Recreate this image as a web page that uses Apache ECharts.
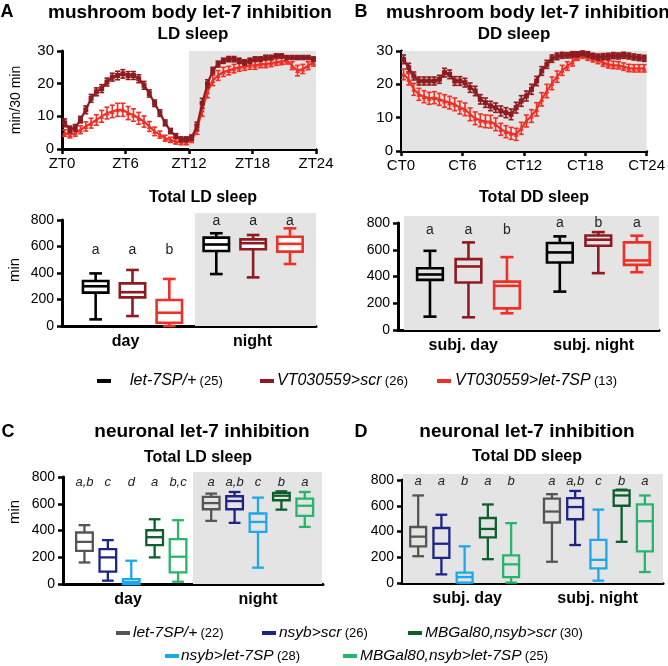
<!DOCTYPE html>
<html><head><meta charset="utf-8">
<script src="https://cdn.jsdelivr.net/npm/echarts@6/dist/echarts.min.js"></script>
<style>html,body{margin:0;padding:0;background:#fff}#c{width:668px;height:666px}</style>
</head><body><div id="c"></div>
<script>
// ---------- DATA ----------
const hours = [0.25,0.75,1.25,1.75,2.25,2.75,3.25,3.75,4.25,4.75,5.25,5.75,6.25,6.75,7.25,7.75,8.25,8.75,9.25,9.75,10.25,10.75,11.25,11.75,
  12.25,12.75,13.25,13.75,14.25,14.75,15.25,15.75,16.25,16.75,17.25,17.75,18.25,18.75,19.25,19.75,20.25,20.75,21.25,21.75,22.25,22.75,23.25,23.75];
const ldTicks = ['ZT0','ZT6','ZT12','ZT18','ZT24'];
const ddTicks = ['CT0','CT6','CT12','CT18','CT24'];

// LD sleep (min/30 min) and SEM
const ldScr = [8,6,6.5,9,12,15.5,17.5,18.5,20.5,22,22.5,23,22.5,22.5,21.5,19.5,17,14,11,8,5.5,4,3,3,
  3.5,7,14,20,24,26,27,27.5,27.5,27,26.5,27,27.5,27.5,28,28,28.5,28.5,28,28,28,28,28,27.5];
const ldScrSem = [1.2,1,1,1,1.2,1.2,1.2,1.2,1.2,1.2,1.3,1.3,1.2,1.2,1.2,1.2,1.1,1,1,0.9,0.8,0.7,0.7,0.7,
  0.8,1.2,1.5,1.2,1,0.9,0.8,0.8,0.8,0.8,0.8,0.8,0.7,0.7,0.7,0.7,0.6,0.6,0.6,0.6,0.6,0.6,0.6,0.7];
const ldLet7 = [4.9,4.4,4.9,5.9,6.9,7.9,8.9,10,11,11.5,12,12,11,10.4,9.4,8.4,6.9,5.4,4.4,3.3,2.8,2.3,2,2,
  2.8,6,12,17.5,21,22.5,23.6,24,24.6,25,25.3,25.6,25.6,26,26,26.3,26.6,26.8,27,25.5,24,24.5,25.5,26.5];
const ldLet7Sem = [1,1,1,1.2,1.4,1.5,1.6,1.8,1.8,1.9,2,2,2,1.9,1.8,1.7,1.5,1.3,1.1,0.9,0.8,0.8,0.7,0.7,
  0.8,1.5,2,1.8,1.6,1.5,1.4,1.3,1.3,1.2,1.2,1.2,1.2,1.1,1.1,1.1,1,1,1,1.2,1.6,1.4,1.2,1.1];
// DD sleep
const ddScr = [27.5,25,22.5,21,21,21,21,21.5,23.5,23,21,21,20.5,19,18,15.5,14.5,13.5,13,12,11.5,11,13,15,
  16.5,18.5,21,24,26,27.7,28.4,28.7,28.7,29,29,29.3,29,28.5,28.2,28.3,28.4,28.6,28.5,28.7,28.5,28.2,28,27.8];
const ddScrSem = [1.3,1.3,1.2,1.2,1.2,1.2,1.2,1.2,1.3,1.3,1.3,1.3,1.3,1.4,1.4,1.4,1.4,1.4,1.4,1.5,1.5,1.6,1.6,1.6,
  1.5,1.5,1.4,1.3,1.2,1.1,1,0.9,0.8,0.8,0.8,0.7,0.8,0.8,0.9,0.9,0.9,0.9,0.9,0.9,0.9,0.9,0.9,0.9];
const ddLet7 = [23,21.5,18.5,17,16.3,15.8,16,15.5,15,14.5,14,13,12.5,11,9.8,9.2,8.9,8.8,8,6.5,5.8,5.3,5,6.8,
  9,10.5,12.5,15.5,18,20.3,22.3,24.2,25.5,26.7,28.2,28.7,28.2,27.7,27.3,26.5,26,25.8,25.7,25.3,24.9,24.8,24.8,24.8];
const ddLet7Sem = [1.6,1.7,1.8,1.8,1.8,1.8,1.8,1.8,1.9,1.9,1.9,1.9,1.9,1.9,1.9,1.9,1.9,1.9,1.9,1.8,1.8,1.8,1.8,1.8,
  1.8,1.9,2,2,2,1.9,1.7,1.5,1.3,1.2,1,0.9,1,1,1.1,1.1,1.1,1.1,1.1,1.1,1.1,1.1,1.1,1.1];

// Box plot categories
const catsLD = ['day','night'];
const catsDD = ['subj. day','subj. night'];

// Mushroom body genotypes
const mbGenotypes = ['let-7SP/+','VT030559>scr','VT030559>let-7SP'];
const mbCounts = ['(25)','(26)','(13)'];
// [min, q1, median, q3, max] for [day, night]
const ldBox_let7SP = [[50,252,300,340,397],[392,566,615,667,700]];
const ldBox_VTscr  = [[75,216,255,322,423],[367,579,625,654,687]];
const ldBox_VTlet7 = [[0,25,100,196,355],[468,561,620,674,737]];
const ddBox_let7SP = [[100,375,415,462,592],[287,505,580,650,700]];
const ddBox_VTscr  = [[95,355,475,530,655],[425,630,675,707,732]];
const ddBox_VTlet7 = [[125,162,330,362,545],[432,487,520,655,705]];
const lettersA = [['a','a','b'],['a','a','a']];
const lettersB = [['a','a','b'],['a','b','a']];

// Neuronal genotypes (plot order)
const nGenotypes = ['let-7SP/+','nsyb>scr','nsyb>let-7SP','MBGal80,nsyb>scr','MBGal80,nsyb>let-7SP'];
const nCounts = ['(22)','(26)','(28)','(30)','(25)'];
const nLD_let7SP   = [[161,248,315,385,440],[472,559,605,651,676]];
const nLD_nsybScr  = [[25,92,199,261,328],[457,559,620,656,688]];
const nLD_nsybLet7 = [[0,0,15,37,174],[122,390,464,527,646]];
const nLD_mbScr    = [[199,291,350,402,484],[556,626,660,681,693]];
const nLD_mbLet7   = [[17,87,204,335,477],[427,509,585,638,688]];
const nDD_let7SP   = [[208,285,360,435,680],[165,470,555,655,690]];
const nDD_nsybScr  = [[67,195,305,427,530],[295,495,590,660,715]];
const nDD_nsybLet7 = [[0,3,46,80,285],[18,113,180,335,570]];
const nDD_mbScr    = [[185,355,420,505,610],[320,600,680,720,725]];
const nDD_mbLet7   = [[3,46,145,215,465],[85,245,480,610,680]];
const lettersC = [['a,b','c','d','a','b,c'],['a','a,b','c','b','a']];
const lettersD = [['a','a','b','a','b'],['a','a,b','c','b','a']];

// ---------- STYLE ----------
const FF = "'Liberation Sans', Arial, Helvetica, sans-serif";
const mbColors = ['#000000','#8e1b1f','#ef3026'];
const nColors = ['#555555','#1d2486','#1ba8ec','#0c5e2c','#27b46b'];
const SHADE = '#e4e4e4';

const chart = echarts.init(document.getElementById('c'), null, {renderer:'canvas'});

function errRender(color, cap) {
  return function (params, api) {
    const p1 = api.coord([api.value(0), api.value(1)]);
    const p2 = api.coord([api.value(0), api.value(2)]);
    const st = {stroke: color, lineWidth: 1.6};
    return {type:'group', children:[
      {type:'line', shape:{x1:p1[0],y1:p1[1],x2:p2[0],y2:p2[1]}, style:st},
      {type:'line', shape:{x1:p1[0]-cap,y1:p1[1],x2:p1[0]+cap,y2:p1[1]}, style:st},
      {type:'line', shape:{x1:p2[0]-cap,y1:p2[1],x2:p2[0]+cap,y2:p2[1]}, style:st}
    ]};
  };
}
function shadeRender(extraTop, insetL) {
  return function (params, api) {
    const a = api.coord([api.value(0), api.value(2)]);
    const b = api.coord([api.value(1), api.value(3)]);
    return {type:'rect', shape:{x:a[0]+insetL, y:b[1]-extraTop, width:b[0]-a[0]-insetL, height:a[1]-b[1]+extraTop},
      style:{fill:SHADE}, z2:0};
  };
}
function catShadeRender(extraTop, insetL, insetR) {
  return function (params, api) {
    const band = api.size([1,0])[0];
    const a = api.coord([api.value(0), api.value(2)]);
    const b = api.coord([api.value(1), api.value(3)]);
    const x0 = a[0]-band/2+insetL, x1 = b[0]+band/2-insetR;
    return {type:'rect', shape:{x:x0, y:b[1]-extraTop, width:x1-x0, height:a[1]-b[1]+extraTop}, style:{fill:SHADE}};
  };
}
function boxRender(cfg, g, color, letters) {
  return function (params, api) {
    const cat = api.value(0);
    const band = api.size([1,0])[0];
    const cx = api.coord([cat, 0])[0] + ((g-(cfg.n-1)/2)*cfg.spacing + cfg.shift[cat]) * band;
    const y = k => api.coord([cat, api.value(k)])[1];
    const yMin=y(1), yQ1=y(2), yMed=y(3), yQ3=y(4), yMax=y(5);
    const bw = cfg.boxW*band/2, cw = cfg.capW*band/2;
    const st = {stroke: color, lineWidth: cfg.lw};
    const ly = api.coord([cat, cfg.letterY[cat]])[1];
    return {type:'group', children:[
      {type:'line', shape:{x1:cx,y1:yMax,x2:cx,y2:yQ3}, style:st},
      {type:'line', shape:{x1:cx,y1:yQ1,x2:cx,y2:yMin}, style:st},
      {type:'line', shape:{x1:cx-cw,y1:yMax,x2:cx+cw,y2:yMax}, style:st},
      {type:'line', shape:{x1:cx-cw,y1:yMin,x2:cx+cw,y2:yMin}, style:st},
      {type:'rect', shape:{x:cx-bw,y:yQ3,width:2*bw,height:Math.max(yQ1-yQ3,1)}, style:{stroke:color,lineWidth:cfg.lw,fill:cfg.fill}},
      {type:'line', shape:{x1:cx-bw,y1:yMed,x2:cx+bw,y2:yMed}, style:st},
      {type:'text', style:{text: letters[cat][g], x:cx, y:ly, align:'center', verticalAlign:'middle',
        font: (cfg.italic?'italic ':'') + cfg.letterSize + 'px ' + FF, fill:'#222'}}
    ]};
  };
}

const axisLineSt = {show:true, lineStyle:{color:'#000', width:3}};
const tickSt = {show:true, inside:false, length:5, lineStyle:{color:'#000', width:2.5}};

function valX(grid, ticks) {
  return {type:'value', gridIndex:grid, min:0, max:24, interval:6, axisLine:axisLineSt, axisTick:tickSt,
    splitLine:{show:false}, axisLabel:{color:'#000', fontSize:15, fontFamily:FF, margin:7,
      formatter: v => ticks[v/6]}};
}
function valY(grid, max, interval, fs) {
  return {type:'value', gridIndex:grid, min:0, max:max, interval:interval, axisLine:axisLineSt, axisTick:tickSt,
    splitLine:{show:false}, axisLabel:{color:'#000', fontSize:fs, fontFamily:FF, margin:8}};
}
function catX(grid, cats) {
  return {type:'category', gridIndex:grid, data:cats, axisLine:axisLineSt, axisTick:{show:false},
    axisLabel:{color:'#000', fontSize:16, fontWeight:'bold', fontFamily:FF, margin:8}};
}

const series = [];
// line chart shades
series.push({type:'custom', xAxisIndex:0, yAxisIndex:0, data:[[12,24,0,30]], encode:{x:[0,1], y:[2,3]},
  renderItem: shadeRender(0, 0), clip:false, z:1, silent:true});
series.push({type:'custom', xAxisIndex:1, yAxisIndex:1, data:[[0,24,0,30]], encode:{x:[0,1], y:[2,3]},
  renderItem: shadeRender(0, 1), clip:false, z:1, silent:true});

function addLine(xi, vals, sems, color, symbol, z) {
  series.push({type:'custom', xAxisIndex:xi, yAxisIndex:xi, z:z,
    data: hours.map((h,i)=>[h, vals[i]-sems[i], vals[i]+sems[i]]), encode:{x:0, y:[1,2]},
    renderItem: errRender(color, 2.5), clip:false});
  series.push({type:'line', xAxisIndex:xi, yAxisIndex:xi, z:z+1, data: hours.map((h,i)=>[h, vals[i]]),
    symbol: symbol, symbolSize: 5, showSymbol:true, lineStyle:{color:color, width:2.2}, itemStyle:{color:color}});
}
addLine(0, ldLet7, ldLet7Sem, mbColors[2], 'triangle', 3);
addLine(0, ldScr, ldScrSem, mbColors[1], 'rect', 5);
addLine(1, ddLet7, ddLet7Sem, mbColors[2], 'triangle', 3);
addLine(1, ddScr, ddScrSem, mbColors[1], 'rect', 5);

// box chart shades
series.push({type:'custom', xAxisIndex:2, yAxisIndex:2, data:[[1,1,0,800]], encode:{x:[0,1], y:[2,3]},
  renderItem: catShadeRender(7, 6, 0), clip:false, z:1, silent:true});
series.push({type:'custom', xAxisIndex:3, yAxisIndex:3, data:[[0,1,0,800]], encode:{x:[0,1], y:[2,3]},
  renderItem: catShadeRender(7, 6, 0), clip:false, z:1, silent:true});
series.push({type:'custom', xAxisIndex:4, yAxisIndex:4, data:[[1,1,0,800]], encode:{x:[0,1], y:[2,3]},
  renderItem: catShadeRender(5, 0, 1), clip:false, z:1, silent:true});
series.push({type:'custom', xAxisIndex:5, yAxisIndex:5, data:[[0,1,0,800]], encode:{x:[0,1], y:[2,3]},
  renderItem: catShadeRender(6, 1, 0), clip:false, z:1, silent:true});

function addBoxes(xi, boxes, names, colors, cfg, letters) {
  boxes.forEach((b, g) => {
    series.push({type:'custom', name:names[g], xAxisIndex:xi, yAxisIndex:xi, z:5, clip:false,
      data: b.map((s, cat) => [cat].concat(s)), encode:{x:0, y:[1,2,3,4,5]},
      renderItem: boxRender(cfg, g, colors[g], letters)});
  });
}
const cfgA = {n:3, spacing:0.29, shift:[0.055,0.005], boxW:0.2, capW:0.1, lw:2.6, fill:'#ffffff', letterY:[575,795], letterSize:14, italic:false};
const cfgB = {n:3, spacing:0.295, shift:[0.04,0.035], boxW:0.197, capW:0.1, lw:2.6, fill:'none', letterY:[748,798], letterSize:14, italic:false};
const cfgC = {n:5, spacing:0.18, shift:[0.025,0], boxW:0.128, capW:0.09, lw:2.3, fill:'none', letterY:[760,760], letterSize:13, italic:true};
const cfgD = {n:5, spacing:0.178, shift:[-0.02,0.005], boxW:0.122, capW:0.09, lw:2.3, fill:'none', letterY:[787,787], letterSize:13, italic:true};
addBoxes(2, [ldBox_let7SP, ldBox_VTscr, ldBox_VTlet7], mbGenotypes, mbColors, cfgA, lettersA);
addBoxes(3, [ddBox_let7SP, ddBox_VTscr, ddBox_VTlet7], mbGenotypes, mbColors, cfgB, lettersB);
addBoxes(4, [nLD_let7SP, nLD_nsybScr, nLD_nsybLet7, nLD_mbScr, nLD_mbLet7], nGenotypes, nColors, cfgC, lettersC);
addBoxes(5, [nDD_let7SP, nDD_nsybScr, nDD_nsybLet7, nDD_mbScr, nDD_mbLet7], nGenotypes, nColors, cfgD, lettersD);

// ---------- TEXT (titles, labels, legends) ----------
const graphic = [];
function txt(x, y, text, font, opts) {
  graphic.push(Object.assign({type:'text', x:x, y:y, silent:true,
    style:{text:text, font:font, fill:'#000', align:'center', verticalAlign:'middle'}}, opts||{}));
}
const B19 = 'bold 19px ' + FF, B18 = 'bold 18px ' + FF, B16 = 'bold 16px ' + FF;
txt(7, 12, 'A', B18); txt(361, 12, 'B', B18); txt(8, 432, 'C', B18); txt(361, 432, 'D', B18);
txt(190, 13, 'mushroom body let-7 inhibition', B19);
txt(528, 13, 'mushroom body let-7 inhibition', B19);
txt(193, 34, 'LD sleep', 'bold 17px ' + FF);
txt(514, 34, 'DD sleep', 'bold 17px ' + FF);
txt(203, 198, 'Total LD sleep', B16);
txt(534, 198, 'Total DD sleep', B16);
txt(202, 432, 'neuronal let-7 inhibition', B19);
txt(527, 432, 'neuronal let-7 inhibition', B19);
txt(198, 458, 'Total LD sleep', B16);
txt(527, 457, 'Total DD sleep', B16);
txt(16, 100, 'min/30 min', '14px ' + FF, {rotation: Math.PI/2});
txt(15, 270, 'min', '15px ' + FF, {rotation: Math.PI/2});
txt(15, 512, 'min', '15px ' + FF, {rotation: Math.PI/2});

function legendItem(dashX, textX, y, name, count, color, nameSize, cntSize) {
  graphic.push({type:'rect', x:dashX, y:y-2, silent:true, shape:{width:14, height:4}, style:{fill:color}});
  graphic.push({type:'text', x:textX, y:y, silent:true, style:{
    text:'{i|' + name + '} {n|' + count + '}', verticalAlign:'middle', align:'left', fill:'#000',
    rich:{ i:{fontStyle:'italic', fontSize:nameSize, fontFamily:FF, verticalAlign:'bottom', fill:'#000'},
           n:{fontSize:cntSize, fontFamily:FF, verticalAlign:'bottom', fill:'#000', padding:[0,0,1,0]} }}});
}
const leg1Pos = [[97,130],[260,277],[437,455]];
mbGenotypes.forEach((g,i) => legendItem(leg1Pos[i][0], leg1Pos[i][1], 381, g, mbCounts[i], mbColors[i], 16, 13));
// legend 2: rows
const leg2Order = [0,1,3,2,4];
const leg2Pos = [[116,133,633],[262,279,633],[408,425,633],[165,181,656],[343,360,656]];
leg2Order.forEach((gi, k) => legendItem(leg2Pos[k][0], leg2Pos[k][1], leg2Pos[k][2], nGenotypes[gi], nCounts[gi], nColors[gi], 15.5, 13));

chart.setOption({
  animation:false,
  backgroundColor:'#ffffff',
  textStyle:{fontFamily:FF},
  grid:[
    {left:62, top:51, width:254, height:98},
    {left:401, top:51, width:258, height:100},
    {left:62, top:220, width:254, height:106},
    {left:398, top:223, width:261, height:107},
    {left:63, top:477, width:260, height:107},
    {left:402, top:480, width:261, height:103}
  ],
  xAxis:[ valX(0, ldTicks), valX(1, ddTicks), catX(2, catsLD), catX(3, catsDD), catX(4, catsLD), catX(5, catsDD) ],
  yAxis:[ valY(0,30,10,15), valY(1,30,10,15), valY(2,800,200,14), valY(3,800,200,14), valY(4,800,200,14), valY(5,800,200,14) ],
  series: series,
  graphic: graphic
});
</script></body></html>
